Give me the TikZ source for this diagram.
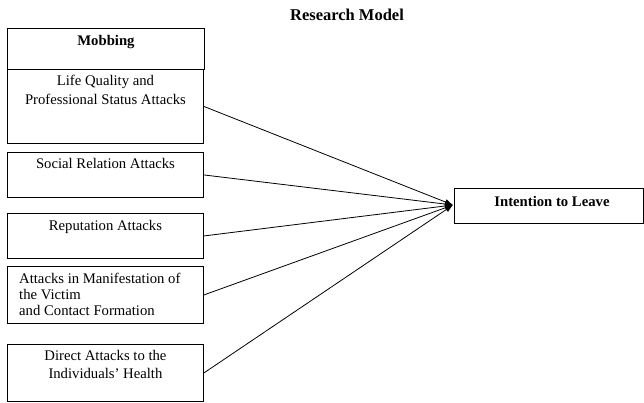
\documentclass[tikz,border=0pt]{standalone}
\usepackage{fontspec}
\setmainfont{Liberation Serif}
\usetikzlibrary{arrows.meta}
\begin{document}
\begin{tikzpicture}[x=1pt,y=-1pt,
  box/.style={draw, line width=0.9pt, rectangle, inner sep=0pt, anchor=north west},
  txt/.style={inner sep=0pt, anchor=north, align=center, font=\fontsize{14.7}{18.5}\selectfont},
  btxt/.style={inner sep=0pt, anchor=north, align=center, font=\bfseries\fontsize{14.7}{18.5}\selectfont},
  conn/.style={line width=0.8pt, -{Latex[length=8pt,width=6pt]}}
]
\useasboundingbox (0,0) rectangle (644,403);
\node[font=\bfseries\fontsize{16.5}{18}\selectfont, inner sep=0pt] (title) at (347,15) {Research Model};

\node[box, minimum width=197pt, minimum height=41pt] (mob) at (7,28) {};
\node[btxt] (mobt) at ([yshift=-7pt]mob.north) {Mobbing};

\node[box, minimum width=196pt, minimum height=74pt] (lq) at (7,69) {};
\node[txt] (lqt) at ([yshift=-6pt]lq.north) {Life Quality and\\Professional Status Attacks};

\node[box, minimum width=196pt, minimum height=45pt] (sr) at (7,152) {};
\node[txt] (srt) at ([yshift=-6pt]sr.north) {Social Relation Attacks};

\node[box, minimum width=196pt, minimum height=45pt] (rep) at (7,213) {};
\node[txt] (rept) at ([yshift=-7pt]rep.north) {Reputation Attacks};

\node[box, minimum width=196pt, minimum height=57pt] (man) at (7,266) {};
\node[txt, anchor=north west, align=left, font=\fontsize{14.7}{16}\selectfont] (mant) at ([xshift=12pt,yshift=-7pt]man.north west) {Attacks in Manifestation of\\the Victim\\and Contact Formation};

\node[box, minimum width=196pt, minimum height=57pt] (dir) at (7,344) {};
\node[txt] (dirt) at ([yshift=-6pt]dir.north) {Direct Attacks to the\\Individuals' Health};

\node[box, minimum width=189pt, minimum height=35pt] (int) at (454,188) {};
\node[btxt] (intt) at ([xshift=3pt,yshift=-8pt]int.north) {Intention to Leave};

\coordinate (tip) at (453,205);
\draw[conn] (lq.east) -- (tip);
\draw[conn] (sr.east) -- (tip);
\draw[conn] (rep.east) -- (tip);
\draw[conn] (man.east) -- (tip);
\draw[conn] (dir.east) -- (tip);
\end{tikzpicture}
\end{document}
